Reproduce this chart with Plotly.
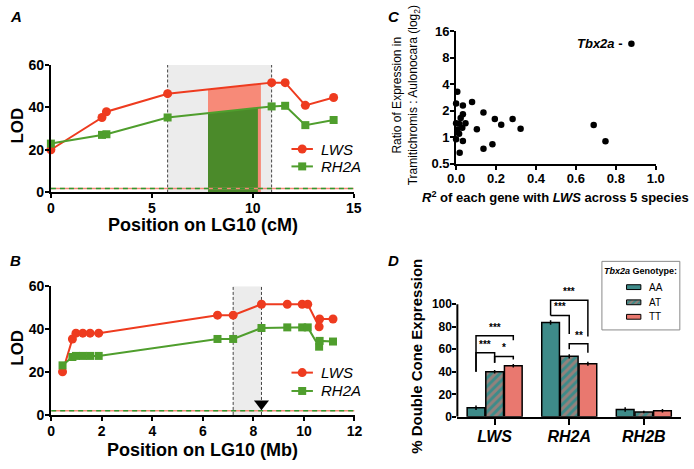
import numpy as np
import plotly.graph_objects as go

# ---------------- Data ----------------
# Panel A: LOD along LG10 (cM)
A_POS = [0.0, 2.53, 2.75, 5.78, 10.93, 11.6, 12.6, 14.0]
A_LWS = [20.1, 35.3, 38.0, 46.5, 51.7, 51.7, 41.0, 44.7]
A_RH2A = [23.0, 27.1, 27.4, 35.3, 40.5, 40.8, 31.7, 34.1]
A_QTL_INTERVAL = [5.78, 10.93]
A_LWS_CI = [7.78, 10.4]
A_RH2A_CI = [7.78, 10.25]
LOD_THRESHOLD = 1.9

# Panel B: LOD along LG10 (Mb)
B_POS = [0.45, 0.84, 0.98, 1.25, 1.54, 1.88, 6.58, 7.2, 8.32, 9.34, 9.93, 10.15, 10.6, 10.62, 11.15]
B_LWS = [20.1, 35.4, 38.1, 38.1, 38.1, 38.1, 46.5, 46.5, 51.6, 51.6, 51.6, 51.6, 41.1, 44.7, 44.7]
B_RH2A = [23.1, 27.0, 27.5, 27.5, 27.5, 27.5, 35.4, 35.4, 40.5, 40.8, 40.8, 40.8, 31.8, 34.5, 34.2]
B_QTL_INTERVAL = [7.2, 8.32]
B_TBX2A_POS = 8.32

# Panel C: R^2 with LWS vs expression ratio
C_R2 = [0.006, 0.0, 0.034, 0.080, 0.034, 0.023, 0.137, 0.194, 0.226, 0.283, 0.323,
        0.0, 0.015, 0.047, 0.031, 0.006, 0.015, 0.104, 0.0, 0.034, 0.137, 0.182, 0.018,
        0.689, 0.748, 0.878]
C_RATIO = [3.29, 2.41, 2.29, 2.52, 1.83, 1.65, 1.91, 1.61, 1.39, 1.61, 1.25,
           1.44, 1.42, 1.44, 1.28, 1.22, 1.10, 1.23, 0.947, 0.907, 0.74, 0.835, 0.666,
           1.38, 0.90, 11.5]
C_LABEL_GENE = "Tbx2a"
C_YTICKS = [0.5, 1, 2, 4, 8, 16]

# Panel D: % double cone expression by Tbx2a genotype
GENES = ["LWS", "RH2A", "RH2B"]
GENOTYPES = ["AA", "AT", "TT"]
D_AA = [8.0, 83.7, 6.6]
D_AT = [40.0, 53.7, 4.3]
D_TT = [45.4, 47.1, 5.4]
D_AA_ERR = [2.0, 2.0, 2.0]
D_AT_ERR = [1.5, 1.8, 1.2]
D_TT_ERR = [1.5, 1.8, 1.5]
# significance comparisons: (gene index, genotype i, genotype j, label)
D_SIG = [(0, 0, 2, "***"), (0, 0, 1, "***"), (0, 1, 2, "*"),
         (1, 0, 2, "***"), (1, 0, 1, "***"), (1, 1, 2, "**")]

# ---------------- Styling ----------------
W, H = 694, 469
FONT = "Liberation Sans, Arial, sans-serif"
RED = "#ee3b1f"
GREEN = "#4f9e2d"
FILL_RED = "#f78a78"
FILL_GREEN = "#4b8a2a"
TEAL = "#3e8b89"
SALMON = "#e9786f"
GRAY_BAND = "#ececec"
OV = dict(xaxis="x5", yaxis="y5")  # full-page overlay in pixel units (legends only)


def px(x):
    return x / W


def py(y):
    return 1 - y / H


fig = go.Figure()

axis_common = dict(showline=True, linecolor="black", linewidth=2, ticks="outside",
                   ticklen=4, tickwidth=2, tickcolor="black", showgrid=False,
                   zeroline=False, ticklabelstandoff=-2,
                   tickfont=dict(family=FONT, size=14, color="black", weight="bold"))


def lod_panel(xa, ya, pos, lws, rh2a, show_fills=None):
    if show_fills is not None:
        for (lo, hi), ys, col in show_fills:
            inner = [p for p in pos if lo < p < hi]
            fx = [lo] + inner + [hi]
            fy = list(np.interp(fx, pos, ys))
            fig.add_trace(go.Scatter(x=fx, y=fy, mode="lines", line=dict(width=0, color=col),
                                     fill="tozeroy", fillcolor=col, showlegend=False,
                                     hoverinfo="skip", xaxis=xa, yaxis=ya))
    fig.add_trace(go.Scatter(x=pos, y=lws, mode="lines+markers", name="LWS",
                             line=dict(color=RED, width=2),
                             marker=dict(symbol="circle", size=9, color=RED),
                             cliponaxis=False, showlegend=False, xaxis=xa, yaxis=ya))
    fig.add_trace(go.Scatter(x=pos, y=rh2a, mode="lines+markers", name="RH2A",
                             line=dict(color=GREEN, width=2),
                             marker=dict(symbol="square", size=8, color=GREEN),
                             cliponaxis=False, showlegend=False, xaxis=xa, yaxis=ya))


def line_legend(row_ys):
    # custom legend: line + marker + italic label, in pixel units
    for name, col, sym, size, ry in [("LWS", RED, "circle", 9, row_ys[0]),
                                     ("RH2A", GREEN, "square", 8, row_ys[1])]:
        fig.add_trace(go.Scatter(x=[290, 312], y=[ry, ry], mode="lines", line=dict(color=col, width=2),
                                 showlegend=False, hoverinfo="skip", **OV))
        fig.add_trace(go.Scatter(x=[301], y=[ry], mode="markers",
                                 marker=dict(symbol=sym, size=size, color=col),
                                 showlegend=False, hoverinfo="skip", **OV))
        fig.add_annotation(x=318, y=ry, xref="x5", yref="y5", text=f"<i>{name}</i>", showarrow=False,
                           xanchor="left", yanchor="middle", font=dict(family=FONT, size=15, color="black"))


# ---- Panel A ----
lod_panel("x", "y", A_POS, A_LWS, A_RH2A,
          show_fills=[(A_LWS_CI, A_LWS, FILL_RED), (A_RH2A_CI, A_RH2A, FILL_GREEN)])
# ---- Panel B ----
lod_panel("x2", "y2", B_POS, B_LWS, B_RH2A)
fig.add_trace(go.Scatter(x=[B_TBX2A_POS], y=[5.2], mode="markers",
                         marker=dict(symbol="triangle-down", size=13, color="black"),
                         showlegend=False, cliponaxis=False, xaxis="x2", yaxis="y2"))

for xa, ya, xmax, interval in [("x", "y", 15, A_QTL_INTERVAL), ("x2", "y2", 12, B_QTL_INTERVAL)]:
    fig.add_shape(type="rect", xref=xa, yref=ya, x0=interval[0], x1=interval[1], y0=0, y1=60,
                  fillcolor=GRAY_BAND, line=dict(width=0), layer="below")
    for xv in interval:
        fig.add_shape(type="line", xref=xa, yref=ya, x0=xv, x1=xv, y0=0, y1=60,
                      line=dict(color="#444", width=1, dash="3px,2px"), layer="below")
    fig.add_trace(go.Scatter(x=[0, xmax], y=[LOD_THRESHOLD] * 2, mode="lines",
                             line=dict(color=FILL_RED, width=1.5), showlegend=False,
                             hoverinfo="skip", xaxis=xa, yaxis=ya))
    fig.add_trace(go.Scatter(x=[0, xmax], y=[LOD_THRESHOLD] * 2, mode="lines",
                             line=dict(color="#2e9a2e", width=1.5, dash="5px,4px"), showlegend=False,
                             hoverinfo="skip", xaxis=xa, yaxis=ya))

line_legend([146, 164])
line_legend([377.5, 396.5])

# ---- Panel C ----
fig.add_trace(go.Scatter(x=C_R2, y=C_RATIO, mode="markers",
                         marker=dict(size=6.5, color="black"), showlegend=False,
                         cliponaxis=False, xaxis="x3", yaxis="y3"))

# ---- Panel D ----
D_VALS = [D_AA, D_AT, D_TT]
D_ERRS = [D_AA_ERR, D_AT_ERR, D_TT_ERR]
for g, vals, errs in zip(GENOTYPES, D_VALS, D_ERRS):
    if g == "AA":
        marker = dict(color=TEAL, line=dict(color="black", width=1.5))
    elif g == "AT":
        marker = dict(color=TEAL, line=dict(color="black", width=1.5),
                      pattern=dict(shape="/", bgcolor=TEAL, fgcolor=SALMON, size=6, solidity=0.5))
    else:
        marker = dict(color=SALMON, line=dict(color="black", width=1.5))
    fig.add_trace(go.Bar(x=list(range(len(GENES))), y=vals, name=g, marker=marker,
                         error_y=dict(type="data", array=errs, color="black", thickness=1.5, width=0),
                         showlegend=False, xaxis="x4", yaxis="y4"))

# significance brackets: (top, left-leg bottom, right-leg bottom, label y)
BRACKET_GEOM = {
    (0, 0, 2): (72, 40, 68, 73),
    (0, 0, 1): (57, 40, 48, 58),
    (0, 1, 2): (53.6, 48, 50.8, 54.5),
    (1, 0, 2): (103.5, 90, 71.4, 104.5),
    (1, 0, 1): (90, 90, 73.5, 91),
    (1, 1, 2): (65, 60, 57, 66),
}
OFFS = [-0.25, 0.0, 0.25]
for gi, a, b, lab in D_SIG:
    top, lb, rb, ly = BRACKET_GEOM[(gi, a, b)]
    xl, xr = gi + OFFS[a], gi + OFFS[b]
    fig.add_shape(type="path", xref="x4", yref="y4",
                  path=f"M {xl},{lb} L {xl},{top} L {xr},{top} L {xr},{rb}",
                  line=dict(color="black", width=1.5))
    fig.add_annotation(x=(xl + xr) / 2, y=ly, xref="x4", yref="y4", text=f"<b>{lab}</b>",
                       showarrow=False, yanchor="bottom", font=dict(family=FONT, size=10, color="black"))
fig.add_shape(type="line", xref="x4 domain", yref="y4", x0=0, x1=0, y0=0, y1=100,
              line=dict(color="black", width=2))

# D legend (custom box, pixel units)
LX, LY = 608.7, 262.3
fig.add_shape(type="rect", xref="x5", yref="y5", x0=LX, x1=LX + 80, y0=LY, y1=LY + 71,
              line=dict(color="#8a8a8a", width=1), fillcolor="white", layer="below")
fig.add_annotation(x=LX + 40, y=LY + 10, xref="x5", yref="y5", showarrow=False,
                   text="<b><i>Tbx2a</i> Genotype:</b>", font=dict(family=FONT, size=9, color="black"))
rows = [26.7, 42.4, 57.4]
for g, r in zip(GENOTYPES, rows):
    ry = LY + r
    sx = [LX + 25.3, LX + 40, LX + 40, LX + 25.3, LX + 25.3]
    sy = [ry - 2.5, ry - 2.5, ry + 2.5, ry + 2.5, ry - 2.5]
    if g == "AT":
        fig.add_trace(go.Scatter(x=sx, y=sy, mode="lines", fill="toself", fillcolor=TEAL,
                                 fillpattern=dict(shape="/", bgcolor=TEAL, fgcolor=SALMON, size=4, solidity=0.5),
                                 line=dict(color="black", width=1), showlegend=False,
                                 hoverinfo="skip", **OV))
    else:
        fig.add_trace(go.Scatter(x=sx, y=sy, mode="lines", fill="toself",
                                 fillcolor=TEAL if g == "AA" else SALMON,
                                 line=dict(color="black", width=1), showlegend=False,
                                 hoverinfo="skip", **OV))
    fig.add_annotation(x=LX + 46.3, y=ry, xref="x5", yref="y5", showarrow=False, xanchor="left",
                       text=g, font=dict(family=FONT, size=10, color="black"))

# ---------------- Layout ----------------
lay = dict(
    width=W, height=H, margin=dict(l=0, r=0, t=0, b=0),
    paper_bgcolor="white", plot_bgcolor="rgba(0,0,0,0)",
    font=dict(family=FONT, color="black"), showlegend=False,
    barmode="group", bargap=0.25, bargroupgap=0.05,
    xaxis=dict(axis_common, domain=[px(43), px(354)], range=[0, 15], anchor="y",
               tickvals=[0, 5, 10, 15]),
    yaxis=dict(axis_common, domain=[py(191), py(59)], range=[0, 60], anchor="x",
               tickvals=[0, 20, 40, 60]),
    xaxis2=dict(axis_common, domain=[px(43.3), px(354.7)], range=[0, 12], anchor="y2",
                tickvals=[0, 2, 4, 6, 8, 10, 12]),
    yaxis2=dict(axis_common, domain=[py(421.3), py(288)], range=[0, 60], anchor="x2",
                tickvals=[0, 20, 40, 60]),
    xaxis3=dict(axis_common, domain=[px(459), px(664)], range=[0, 1], anchor="y3",
                tickvals=[0, 0.2, 0.4, 0.6, 0.8, 1.0], ticktext=["0.0", "0.2", "0.4", "0.6", "0.8", "1.0"]),
    yaxis3=dict(axis_common, domain=[py(161.3), py(24)], type="log",
                range=[np.log10(0.5), np.log10(16)], anchor="x3",
                tickvals=C_YTICKS, ticktext=["0.5", "1", "2", "4", "8", "16"]),
    xaxis4=dict(axis_common, domain=[px(460.3), px(690)], range=[-0.5, 2.5], anchor="y4",
                tickvals=[0, 1, 2], ticktext=[f"<i>{g}</i>" for g in GENES]),
    yaxis4=dict(axis_common, domain=[py(423.3), py(277.5)], range=[0, 125], anchor="x4",
                tickvals=[0, 20, 40, 60, 80, 100], showline=False),
    xaxis5=dict(domain=[0, 1], range=[0, W], anchor="y5", visible=False, fixedrange=True),
    yaxis5=dict(domain=[0, 1], range=[H, 0], anchor="x5", visible=False, fixedrange=True),
)
lay["xaxis3"]["tickfont"] = dict(family=FONT, size=13, color="black", weight="bold")
lay["yaxis3"]["tickfont"] = dict(family=FONT, size=13, color="black", weight="bold")
lay["xaxis4"]["tickfont"] = dict(family=FONT, size=16, color="black", weight="bold")
lay["xaxis4"]["ticklen"] = 6
lay["yaxis4"]["tickfont"] = dict(family=FONT, size=12, color="black", weight="bold")
fig.update_layout(**lay)


def ann(text, x, y, size, angle=0, bold=True, italic=False):
    t = text
    if bold:
        t = f"<b>{t}</b>"
    if italic:
        t = f"<i>{t}</i>"
    fig.add_annotation(x=px(x), y=py(y), xref="paper", yref="paper", text=t, showarrow=False,
                       textangle=angle, xanchor="center", yanchor="middle",
                       font=dict(family=FONT, size=size, color="black"))


ann("LOD", 9, 122, 17, -90)
ann("Position on LG10 (cM)", 199, 225, 18)
ann("LOD", 9, 352, 17, -90)
ann("Position on LG10 (Mb)", 199, 458, 18)
ann("Ratio of Expression in<br>Tramitichromis : Aulonocara (log<sub>2</sub>)", 408, 90, 12, -90, bold=False)
ann("<i>R</i><sup>2</sup> of each gene with <i>LWS</i> across 5 species", 561, 196, 13)
ann("% Double Cone Expression", 419, 361, 15, -90)
for letter, lx, ly in [("A", 7, 9), ("B", 7, 261), ("C", 395, 9), ("D", 395, 261)]:
    ann(letter, lx, ly, 15, 0, True, True)

fig.add_annotation(x=C_R2[-1], y=np.log10(C_RATIO[-1]), xref="x3", yref="y3", showarrow=False,
                   xanchor="right", xshift=-6, text=f"<b><i>{C_LABEL_GENE}</i> -</b>",
                   font=dict(family=FONT, size=13, color="black"))

fig.write_html("out.html", config={"displayModeBar": False},
               post_script="document.body.style.margin='0';document.body.style.overflow='hidden';")
